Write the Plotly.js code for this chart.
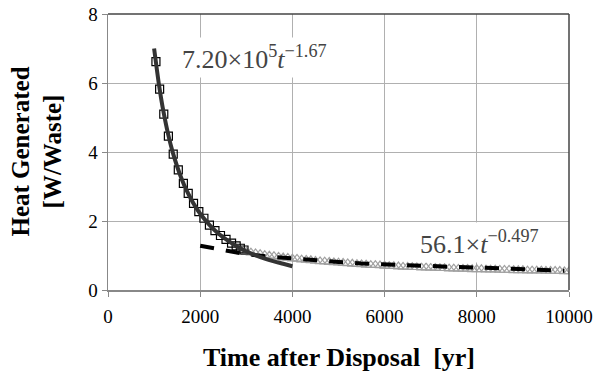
<!DOCTYPE html>
<html>
<head>
<meta charset="utf-8">
<script src="https://cdn.plot.ly/plotly-3.0.1.min.js"></script>
<style>html,body{margin:0;padding:0;background:#fff;}#chart{width:597px;height:378px;}</style>
</head>
<body>
<div id="chart"></div>
<script>
// Open squares (early period)
const squareT = [1040,1120,1210,1310,1415,1525,1635,1740,1855,1970,2080,2200,2320,2440,2560,2680,2780,2870,2950];
const squareQ = [6.62,5.82,5.10,4.46,3.94,3.48,3.09,2.80,2.51,2.27,2.08,1.88,1.72,1.58,1.47,1.36,1.28,1.21,1.16];

// Open triangles (late period)
const triT = [2900,3000,3100,3200,3300,3400,3500,3600,3700,3800,3900,4000,4100,4200,4300,4400,4500,4600,4700,4800,4900,5000,5100,5200,5300,5400,5500,5600,5700,5800,5900,6000,6100,6200,6300,6400,6500,6600,6700,6800,6900,7000,7100,7200,7300,7400,7500,7600,7700,7800,7900,8000,8100,8200,8300,8400,8500,8600,8700,8800,8900,9000,9100,9200,9300,9400,9500,9600,9700,9800,9900,10000];
const triQ = [1.12,1.10,1.08,1.06,1.04,1.01,0.99,0.98,0.96,0.94,0.93,0.91,0.90,0.88,0.87,0.86,0.84,0.83,0.82,0.81,0.80,0.79,0.78,0.77,0.76,0.75,0.74,0.73,0.72,0.72,0.71,0.70,0.69,0.69,0.68,0.67,0.67,0.66,0.66,0.65,0.65,0.64,0.64,0.63,0.63,0.62,0.62,0.61,0.61,0.61,0.60,0.60,0.60,0.59,0.59,0.59,0.58,0.58,0.58,0.57,0.57,0.57,0.56,0.56,0.56,0.56,0.55,0.55,0.55,0.55,0.54,0.54];

// Dashed black curve
const dashT = [2000,2500,3000,3500,4000,4500,5000,5500,6000,6500,7000,7500,8000,8500,9000,9500,9900];
const dashQ = [1.28,1.15,1.04,0.97,0.91,0.86,0.81,0.77,0.74,0.71,0.69,0.67,0.65,0.62,0.59,0.57,0.56];

// Solid fitted curve
const fitT = [1000,1050,1100,1150,1200,1300,1400,1500,1600,1700,1800,1900,2000,2200,2400,2600,2800,3000,3200,3400,3600,3800,4000];
const fitQ = [7.00,6.49,6.00,5.57,5.19,4.54,4.01,3.58,3.21,2.90,2.64,2.41,2.21,1.89,1.63,1.43,1.26,1.12,1.01,0.91,0.83,0.76,0.69];

const xTicks = [0,2000,4000,6000,8000,10000];
const yTicks = [0,2,4,6,8];

const serif = 'Liberation Serif, Times New Roman, serif';

const traces = [
  {x: triT, y: triQ, mode: 'markers', type: 'scatter',
   marker: {symbol: 'triangle-up-open', size: 9, color: '#a0a0a0', line: {width: 1.2, color: '#a0a0a0'}}},
  {x: squareT, y: squareQ, mode: 'markers', type: 'scatter',
   marker: {symbol: 'square-open', size: 8, color: '#000', line: {width: 1.2, color: '#000'}}},
  {x: dashT, y: dashQ, mode: 'lines', type: 'scatter',
   line: {color: '#000', width: 4, dash: '14px,12px'}},
  {x: fitT, y: fitQ, mode: 'lines', type: 'scatter',
   line: {color: '#333', width: 4, shape: 'spline'}}
];

const layout = {
  width: 597, height: 378,
  margin: {l: 108, r: 28, t: 14, b: 88},
  paper_bgcolor: '#fff', plot_bgcolor: '#fff',
  showlegend: false,
  font: {family: serif, color: '#000', size: 19},
  xaxis: {range: [0, 10000], tickvals: xTicks, ticktext: xTicks.map(String),
    showgrid: true, gridcolor: '#b0b0b0', gridwidth: 1, zeroline: false,
    showline: true, linecolor: '#888', linewidth: 1.5,
    ticks: 'outside', ticklen: 5, tickcolor: '#888', tickwidth: 1,
    ticklabelstandoff: 4,
    tickfont: {family: serif, size: 19, color: '#000'}, fixedrange: true},
  yaxis: {range: [0, 8], tickvals: yTicks, ticktext: yTicks.map(String),
    showgrid: true, gridcolor: '#b0b0b0', gridwidth: 1, zeroline: false,
    showline: true, linecolor: '#888', linewidth: 1.5,
    ticks: 'outside', ticklen: 5, tickcolor: '#888', tickwidth: 1,
    tickfont: {family: serif, size: 19, color: '#000'}, fixedrange: true},
  shapes: [
    {type: 'line', xref: 'paper', yref: 'paper', x0: 0, x1: 1, y0: 1, y1: 1, line: {color: '#444', width: 1.5}},
    {type: 'line', xref: 'paper', yref: 'paper', x0: 1, x1: 1, y0: 0, y1: 1, line: {color: '#444', width: 1.5}}
  ],
  annotations: [
    {x: 3167, y: 6.75, xref: 'x', yref: 'y', showarrow: false,
     text: '7.20×10<sup>5</sup><i>t</i><sup>−1.67</sup>',
     font: {family: serif, size: 26, color: '#444'}, bgcolor: '#fff', borderpad: 3},
    {x: 8048, y: 1.38, xref: 'x', yref: 'y', showarrow: false,
     text: '56.1×<i>t</i><sup>−0.497</sup>',
     font: {family: serif, size: 26, color: '#444'}, bgcolor: '#fff', borderpad: 3},
    {x: 0.5, y: -0.245, xref: 'paper', yref: 'paper', showarrow: false,
     xanchor: 'center', yanchor: 'middle',
     text: '<b>Time after Disposal  [yr]</b>',
     font: {family: serif, size: 26, color: '#000'}},
    {x: -0.155, y: 0.5, xref: 'paper', yref: 'paper', showarrow: false,
     xanchor: 'center', yanchor: 'middle', textangle: -90,
     text: '<b>Heat Generated<br>[W/Waste]</b>',
     font: {family: serif, size: 25, color: '#000'}}
  ]
};

Plotly.newPlot('chart', traces, layout, {displayModeBar: false, staticPlot: true});
</script>
</body>
</html>
